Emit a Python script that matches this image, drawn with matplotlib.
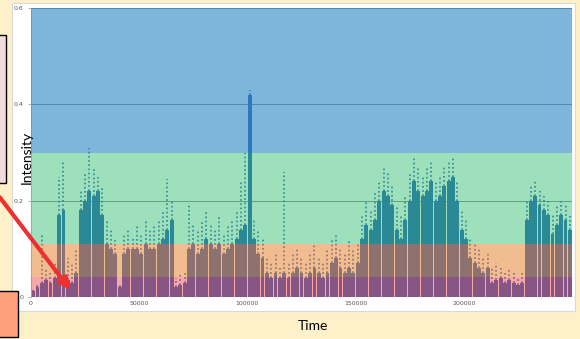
import numpy as np
import matplotlib
matplotlib.use('Agg')
import matplotlib.pyplot as plt
from matplotlib.patches import Rectangle

# time bins (start of each 2000-unit bin)
bin_width = 2000
time = np.arange(0, 250000, bin_width)

# dense top of the trace in each bin
dense_top = [
    0.012, 0.02,
    0.03, 0.035, 0.03, 0.04,
    0.17, 0.18,
    0.035, 0.03, 0.05,
    0.18, 0.20, 0.22, 0.21, 0.22, 0.17,
    0.11, 0.10, 0.09,
    0.02,
    0.09, 0.10, 0.10,
    0.10, 0.09, 0.11, 0.10,
    0.10, 0.11, 0.12, 0.14, 0.16,
    0.02, 0.025, 0.03,
    0.10, 0.11, 0.09, 0.10, 0.12, 0.11, 0.10, 0.11, 0.09, 0.10, 0.11,
    0.12, 0.14,
    0.15, 0.42, 0.12,
    0.09, 0.08,
    0.05, 0.04, 0.05, 0.04, 0.05, 0.04, 0.05, 0.06, 0.05, 0.04, 0.05, 0.06, 0.05, 0.04, 0.05,
    0.07, 0.08, 0.06,
    0.05, 0.06, 0.05, 0.07,
    0.12, 0.15, 0.14, 0.16,
    0.20, 0.22, 0.21, 0.19,
    0.14, 0.12, 0.16,
    0.20, 0.24, 0.22, 0.21,
    0.22, 0.24, 0.20, 0.21, 0.23,
    0.24, 0.25, 0.20,
    0.14, 0.12,
    0.08, 0.07, 0.06, 0.05, 0.06,
    0.03, 0.035, 0.04, 0.03, 0.035, 0.03, 0.025, 0.03,
    0.16, 0.20, 0.21, 0.19, 0.18, 0.17,
    0.13, 0.15, 0.17, 0.16, 0.14,
]

# sparse maximum points in each bin
peak = [
    0.015, 0.03,
    0.13, 0.06, 0.05, 0.07,
    0.25, 0.28,
    0.08, 0.07, 0.10,
    0.22, 0.26, 0.31, 0.27, 0.25, 0.23,
    0.16, 0.14, 0.12,
    0.03,
    0.13, 0.14, 0.12,
    0.15, 0.13, 0.16, 0.14,
    0.15, 0.16, 0.18, 0.245, 0.20,
    0.04, 0.05, 0.05,
    0.195, 0.15, 0.14, 0.16, 0.18, 0.15, 0.14, 0.17, 0.13, 0.15, 0.16,
    0.18, 0.24,
    0.30, 0.43, 0.16,
    0.14, 0.12,
    0.08, 0.07, 0.09, 0.06, 0.26, 0.07, 0.09, 0.10, 0.08, 0.07, 0.09, 0.11, 0.08, 0.07, 0.10,
    0.12, 0.13, 0.10,
    0.09, 0.12, 0.10, 0.11,
    0.17, 0.20, 0.18, 0.22,
    0.24, 0.27, 0.26, 0.23,
    0.19, 0.17, 0.21,
    0.26, 0.29, 0.27, 0.25,
    0.27, 0.28, 0.24, 0.25, 0.27,
    0.28, 0.29, 0.24,
    0.18, 0.16,
    0.12, 0.11, 0.10, 0.08, 0.09,
    0.06, 0.07, 0.06, 0.05, 0.06, 0.05, 0.04, 0.05,
    0.20, 0.23, 0.24, 0.22, 0.21, 0.20,
    0.17, 0.19, 0.20, 0.19, 0.17,
]

# intensity bands (lower, upper, colour, alpha)
band_edges = [0.0, 0.042, 0.11, 0.30, 0.6]
band_colors = ['#EE4848', '#E3822E', '#2ABC6C', '#2D88C6']
band_alpha = [0.47, 0.53, 0.45, 0.62]

fig = plt.figure(figsize=(5.8, 3.39), dpi=100)
fig.patch.set_facecolor('#FEF0C8')

# white chart box
fig.add_artist(Rectangle((12 / 580, 28 / 339), 563 / 580, 308 / 339,
                         transform=fig.transFigure, facecolor='white',
                         edgecolor='#D9D9D9', lw=0.8, zorder=0))

ax = fig.add_axes([31 / 580, 42 / 339, 541 / 580, 289 / 339])
ax.set_facecolor('white')

trace_color = '#2D61B9'
ax.bar(time + bin_width / 2, dense_top, width=bin_width * 0.9, color=trace_color,
       linewidth=0, zorder=2)
ax.vlines(time + bin_width / 2, dense_top, peak, color=trace_color,
          linestyles=(0, (1, 1.5)), lw=1.2, zorder=2)

for lo, hi, c, a in zip(band_edges[:-1], band_edges[1:], band_colors, band_alpha):
    ax.axhspan(lo, hi, color=c, alpha=a, lw=0, zorder=3)

ax.set_xlim(0, 250000)
ax.set_ylim(0, 0.6)
ax.set_yticks([0, 0.2, 0.4, 0.6])
ax.set_yticklabels(['0', '0.2', '0.4', '0.6'])
ax.set_xticks([0, 50000, 100000, 150000, 200000])
ax.set_xticklabels(['0', '50000', '100000', '150000', '200000'])
ax.tick_params(axis='both', labelsize=4.5, colors='#595959', length=0, pad=3)
ax.tick_params(axis='y', length=2.5, color='#A6A6A6', width=0.6)
ax.yaxis.grid(True, color='#8C8C8C', lw=0.7, zorder=1)
ax.set_axisbelow(True)
for s in ['top', 'right', 'bottom']:
    ax.spines[s].set_visible(False)
ax.spines['left'].set_color('#BFBFBF')
ax.spines['left'].set_linewidth(0.8)

fig.text(27 / 580, 1 - 157 / 339, 'Intensity', rotation=90, ha='center',
         va='center', fontsize=10, family='Lato', color='black')
fig.text(313 / 580, 1 - 326 / 339, 'Time', ha='center', va='center',
         fontsize=10, family='Lato', color='black')

# side boxes from the slide
fig.add_artist(Rectangle((-10 / 580, 1 - 183 / 339), 16 / 580, 148 / 339,
                         transform=fig.transFigure, facecolor='#F2DCDB',
                         edgecolor='black', lw=1, zorder=5))
fig.add_artist(Rectangle((-10 / 580, 1 - 337 / 339), 28 / 580, 46 / 339,
                         transform=fig.transFigure, facecolor='#FFA07C',
                         edgecolor='black', lw=1, zorder=5))

# red arrow
ax.annotate('', xy=(72, 339 - 292), xycoords='figure pixels',
            xytext=(-2, 339 - 195), textcoords='figure pixels',
            arrowprops=dict(arrowstyle='-|>', color='#EE3030', lw=3,
                            mutation_scale=16),
            annotation_clip=False, zorder=6)

fig.savefig('out.png', dpi=100, facecolor=fig.get_facecolor())
